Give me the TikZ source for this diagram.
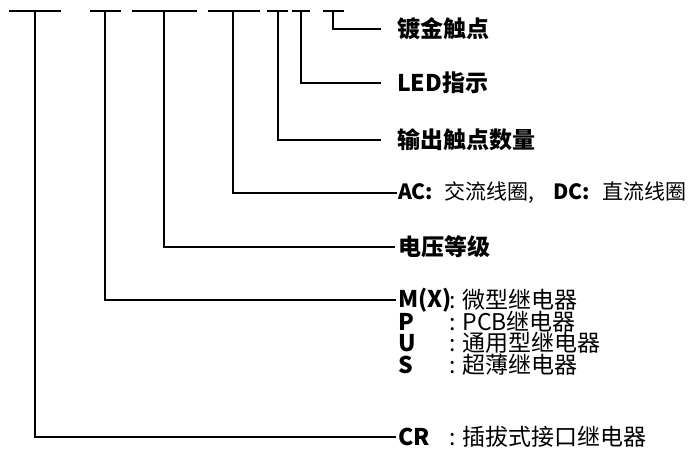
\documentclass[tikz,border=0pt]{standalone}
\usepackage{fontspec}
\setmainfont{Noto Sans CJK SC}
\usetikzlibrary{positioning}

\begin{document}
\begin{tikzpicture}[
    x=1pt, y=-1pt,
    bar/.style={line width=2pt},
    lead/.style={line width=2pt, line cap=rect},
    label/.style={anchor=west, inner sep=0pt, font=\fontsize{23}{23}\selectfont},
    key/.style={anchor=west, inner sep=0pt, font=\fontsize{23}{23}\selectfont\bfseries}
]
\useasboundingbox (0,0) rectangle (693,448);

% bars over the code letters
\foreach \name/\xa/\xb/\xc in {cr/9/61/35, mx/90/121/105, vol/132/197/164,
    ac/208/260/233, num/267/288/278, led/292/310/301, gold/323/344/333} {
  \coordinate (\name) at (\xc,11);
  \draw[bar] (\xa,11) -- (\xb,11);
}

% meanings
\node[key] (goldtxt) at (397,29) {镀金触点};
\node[key] (ledtxt) at (397,83) {LED指示};
\node[key] (numtxt) at (397,140) {输出触点数量};
\node[label, font=\fontsize{21}{21}\selectfont] (actxt) at (398,193)
    {\textbf{AC:}\hspace{11pt}交流线圈,\hspace{19pt}\textbf{DC:}\hspace{13pt}直流线圈};
\node[key] (voltxt) at (398,247) {电压等级};

\node[key] (mxkey) at (398,300) {M(X)};
\node[label] (mxtxt) at (449,300) {: 微型继电器};
\node[key] (pkey) at (398,322) {P};
\node[label] (ptxt) at (449,322) {: PCB继电器};
\node[key] (ukey) at (398,343) {U};
\node[label] (utxt) at (449,343) {: 通用型继电器};
\node[key] (skey) at (398,365) {S};
\node[label] (stxt) at (449,365) {: 超薄继电器};
\node[key] (crkey) at (398,437) {CR};
\node[label] (crtxt) at (449,437) {: 插拔式接口继电器};

% leaders
\draw[lead, shorten >=17pt] (gold) |- (goldtxt.west);
\draw[lead, shorten >=17pt] (led) |- (ledtxt.west);
\draw[lead, shorten >=17pt] (num) |- (numtxt.west);
\draw[lead, shorten >=2pt] (ac) |- (actxt.west);
\draw[lead, shorten >=4pt] (vol) |- (voltxt.west);
\draw[lead, shorten >=3pt] (mx) |- (mxkey.west);
\draw[lead, shorten >=3pt] (cr) |- (crkey.west);
\end{tikzpicture}
\end{document}
